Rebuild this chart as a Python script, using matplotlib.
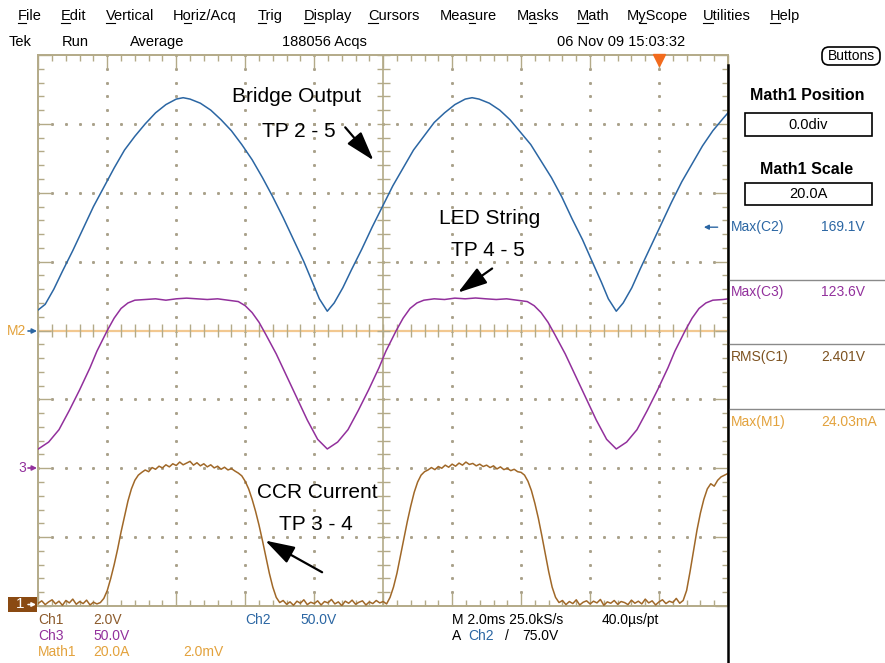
import numpy as np
import matplotlib
matplotlib.use("Agg")
import matplotlib.pyplot as plt
from matplotlib.patches import Rectangle, FancyBboxPatch

plt.rcParams["font.family"] = ["Liberation Sans", "DejaVu Sans"]

# ---- acquisition: time in ms, values in volts ----
# Ch2 - bridge output (TP 2-5)
CH2_POINTS = [
    (0.00, 15), (0.20, 19), (0.45, 30), (0.70, 43), (1.00, 58), (1.30, 74), (1.60, 90),
    (1.90, 104), (2.20, 118), (2.50, 131), (2.80, 141), (3.10, 150), (3.40, 158), (3.70, 164),
    (4.00, 168), (4.20, 169), (4.40, 168), (4.70, 165), (5.00, 160), (5.30, 153), (5.60, 145),
    (5.90, 135), (6.20, 124), (6.50, 111), (6.80, 97), (7.10, 82), (7.40, 66), (7.70, 50),
    (7.95, 35), (8.15, 23), (8.38, 14),
    (8.58, 20), (8.83, 31), (9.08, 44), (9.38, 59), (9.68, 75), (9.98, 90), (10.28, 105),
    (10.58, 118), (10.88, 131), (11.18, 141), (11.48, 151), (11.78, 158), (12.08, 164),
    (12.38, 168), (12.58, 169), (12.78, 168), (13.08, 165), (13.38, 160), (13.68, 153),
    (13.98, 144), (14.28, 135), (14.58, 123), (14.88, 111), (15.18, 97), (15.48, 81),
    (15.78, 66), (16.08, 49), (16.33, 35), (16.53, 23), (16.76, 14),
    (16.96, 20), (17.21, 31), (17.46, 45), (17.76, 61), (18.06, 77), (18.36, 93),
    (18.66, 108), (18.96, 121), (19.26, 134), (19.56, 145), (19.86, 154), (20.00, 158),
]

# Ch3 - LED string (TP 4-5)
CH3_POINTS = [
    (0.00, 14), (0.30, 19), (0.60, 28), (0.90, 42), (1.20, 57), (1.50, 73), (1.70, 85),
    (2.00, 100), (2.20, 109), (2.40, 116), (2.60, 120), (2.80, 122), (3.10, 122.5),
    (3.40, 123), (3.70, 122), (4.00, 123), (4.30, 123.5), (4.60, 123), (4.90, 122.5),
    (5.20, 123), (5.50, 122), (5.80, 121), (6.00, 118), (6.20, 113), (6.40, 106),
    (6.60, 97), (6.90, 83), (7.20, 67), (7.50, 51), (7.80, 35), (8.10, 21), (8.38, 14),
    (8.68, 19), (8.98, 28), (9.28, 42), (9.58, 57), (9.88, 73), (10.08, 85), (10.38, 100),
    (10.58, 109), (10.78, 116), (10.98, 120), (11.18, 122), (11.48, 123), (11.78, 122.5),
    (12.08, 123.5), (12.38, 123), (12.68, 123.6), (12.98, 123), (13.28, 122.5), (13.58, 123),
    (13.88, 122), (14.18, 121), (14.38, 118), (14.58, 113), (14.78, 106), (14.98, 97),
    (15.28, 83), (15.58, 67), (15.88, 51), (16.18, 35), (16.48, 21), (16.76, 14),
    (17.06, 19), (17.36, 28), (17.66, 42), (17.96, 57), (18.26, 73), (18.46, 85),
    (18.76, 100), (18.96, 109), (19.16, 116), (19.36, 120), (19.56, 122), (19.86, 122.5),
    (20.00, 123),
]

# Ch1 - CCR current sense (TP 3-4), one sample every 0.1 ms, one row per ms
CH1_DT = 0.1
CH1_VOLTS = [
    0.08, 0.15, 0.04, 0.12, 0.18, 0.06, 0.14, 0.02, 0.16, 0.09,
    0.20, 0.05, 0.13, 0.07, 0.17, 0.03, 0.11, 0.06, 0.10, 0.22,
    0.45, 0.80, 1.20, 1.65, 2.15, 2.60, 3.05, 3.40, 3.65, 3.80,
    3.88, 3.95, 3.90, 4.02, 3.97, 4.06, 4.01, 4.10, 4.04, 4.13,
    4.08, 4.18, 4.10, 4.15, 4.20, 4.09, 4.16, 4.07, 4.13, 4.04,
    4.10, 4.01, 4.06, 3.97, 4.03, 3.95, 3.99, 3.92, 3.86, 3.78,
    3.62, 3.40, 3.10, 2.75, 2.35, 1.90, 1.42, 0.95, 0.55, 0.25,
    0.10, 0.16, 0.05, 0.12, 0.02, 0.14, 0.08, 0.18, 0.04, 0.11,
    0.07, 0.15, 0.03, 0.13, 0.09, 0.19, 0.06, 0.12, 0.01, 0.14,
    0.08, 0.17, 0.05, 0.11, 0.15, 0.03, 0.12, 0.07, 0.16, 0.09,
    0.13, 0.06, 0.25, 0.55, 0.95, 1.45, 1.95, 2.45, 2.90, 3.30,
    3.60, 3.80, 3.90, 3.95, 4.02, 3.96, 4.05, 4.00, 4.09, 4.03,
    4.12, 4.06, 4.15, 4.09, 4.18, 4.11, 4.14, 4.07, 4.12, 4.05,
    4.09, 4.02, 4.07, 3.98, 4.04, 3.96, 4.00, 3.93, 3.97, 3.90,
    3.88, 3.80, 3.62, 3.35, 2.98, 2.55, 2.05, 1.52, 1.00, 0.55,
    0.25, 0.10, 0.16, 0.04, 0.13, 0.07, 0.18, 0.03, 0.11, 0.15,
    0.06, 0.14, 0.09, 0.19, 0.02, 0.12, 0.08, 0.16, 0.05, 0.13,
    0.10, 0.04, 0.17, 0.08, 0.14, 0.06, 0.20, 0.09, 0.15, 0.03,
    0.12, 0.18, 0.07, 0.14, 0.10, 0.22, 0.08, 0.16, 0.45, 1.00,
    1.60, 2.20, 2.70, 3.10, 3.40, 3.55, 3.48, 3.65, 3.75, 3.80,
    3.85,
]

# vertical settings (V/div) and ground positions (div from centre)
CH1_SCALE, CH2_SCALE, CH3_SCALE = 2.0, 50.0, 50.0
CH1_OFFSET, CH2_OFFSET, CH3_OFFSET = -4.0, 0.0, -2.0
TRIGGER_LEVEL = 75.0
TRIGGER_TIME = 18.0

MENU_LABELS = ["File", "Edit", "Vertical", "Horiz/Acq", "Trig", "Display", "Cursors",
               "Measure", "Masks", "Math", "MyScope", "Utilities", "Help"]
MENU_HOTKEY = [0, 0, 0, 1, 0, 0, 0, 3, 1, 0, 1, 0, 0]
MEAS_NAMES = ["Max(C2)", "Max(C3)", "RMS(C1)", "Max(M1)"]
MEAS_VALUES = ["169.1V", "123.6V", "2.401V", "24.03mA"]

BLUE = "#2B66A3"
PURPLE = "#92309C"
BROWN = "#A06828"
ORANGE = "#E3A23C"
TAN = "#B3AA88"
DOT = "#A9A18A"

fig = plt.figure(figsize=(8.85, 6.63), dpi=100)
fig.patch.set_facecolor("white")

# ---- graticule ----
ax = fig.add_axes([38.3 / 885, 57 / 663, 689.7 / 885, 551 / 663])
ax.set_xlim(0, 20)
ax.set_ylim(-4, 4)
for s in ax.spines.values():
    s.set_color(TAN)
    s.set_linewidth(1.4)
ax.set_xticks(np.arange(0, 20.01, 2))
ax.set_xticks(np.arange(0, 20.01, 0.4), minor=True)
ax.set_yticks(np.arange(-4, 4.01, 1))
ax.set_yticks(np.arange(-4, 4.01, 0.2), minor=True)
ax.tick_params(which="both", direction="in", top=True, right=True, labelbottom=False,
               labelleft=False, color=TAN, width=1.0)
ax.tick_params(which="major", length=9.5)
ax.tick_params(which="minor", length=4.3)

xminor = np.arange(0, 20.01, 0.4)
yminor = np.arange(-4, 4.01, 0.2)
for gx in [2, 4, 6, 8, 12, 14, 16, 18]:
    ax.plot([gx] * len(yminor), yminor, ls="none", marker="s", ms=1.1, color=DOT, zorder=1)
for gy in [-3, -2, -1, 1, 2, 3]:
    ax.plot(xminor, [gy] * len(xminor), ls="none", marker="s", ms=1.1, color=DOT, zorder=1)

# centre cross with ticks (M2 reference drawn in orange)
ax.axhline(0, color="#F2C890", lw=1.6, zorder=1.5)
ax.axvline(10, color=TAN, lw=1.2, zorder=1.5)
ax.vlines(xminor, -0.1, 0.1, color=TAN, lw=1.0, zorder=1.6)
ax.hlines(yminor, 9.81, 10.19, color=TAN, lw=1.0, zorder=1.6)

# ---- traces ----
t2, v2 = np.array(CH2_POINTS).T
t3, v3 = np.array(CH3_POINTS).T
v1 = np.array(CH1_VOLTS)
t1 = np.arange(len(v1)) * CH1_DT
ax.plot(t2, v2 / CH2_SCALE + CH2_OFFSET, color=BLUE, lw=1.1, zorder=4)
ax.plot(t3, v3 / CH3_SCALE + CH3_OFFSET, color=PURPLE, lw=1.1, zorder=4)
ax.plot(t1, v1 / CH1_SCALE + CH1_OFFSET, color=BROWN, lw=1.1, zorder=4)

# trigger position and level markers
ax.plot(TRIGGER_TIME, 3.93, marker="v", ms=9, color="#F26B1D", clip_on=False, zorder=6)
trig_y = TRIGGER_LEVEL / CH2_SCALE + CH2_OFFSET
ax.annotate("", xy=(19.3, trig_y), xytext=(19.7, trig_y),
            arrowprops=dict(arrowstyle="-|>", color=BLUE, lw=1.0, mutation_scale=7,
                            shrinkA=0, shrinkB=0))

# ---- annotations ----
arrow = dict(arrowstyle="-|>,head_length=0.9,head_width=0.28", color="black", lw=1.6,
             mutation_scale=20, shrinkA=0, shrinkB=0)
label_kw = dict(fontsize=15, ha="center", va="center", color="black", zorder=7)
ax.text(7.5, 3.40, "Bridge Output", **label_kw)
ax.text(7.54, 2.89, "TP 2 - 5", **label_kw)
ax.annotate("", xy=(9.72, 2.47), xytext=(8.9, 2.95), arrowprops=arrow, zorder=7)
ax.text(13.1, 1.63, "LED String", **label_kw)
ax.text(13.04, 1.16, "TP 4 - 5", **label_kw)
ax.annotate("", xy=(12.17, 0.55), xytext=(13.16, 0.9), arrowprops=arrow, zorder=7)
ax.text(8.09, -2.35, "CCR Current", **label_kw)
ax.text(8.06, -2.82, "TP 3 - 4", **label_kw)
ax.annotate("", xy=(6.58, -3.05), xytext=(8.23, -3.51), arrowprops=arrow, zorder=7)

# ---- screen furniture (pixel coordinates) ----
ui = fig.add_axes([0, 0, 1, 1])
ui.set_xlim(0, 885)
ui.set_ylim(663, 0)
ui.axis("off")
renderer = fig.canvas.get_renderer()

menu_x = [18, 61, 106, 173, 258, 304, 368, 440, 517, 577, 627, 703, 770]
for x, label, k in zip(menu_x, MENU_LABELS, MENU_HOTKEY):
    ui.text(x, 16, label, fontsize=10.5, va="center", ha="left")
    a = ui.text(x, 16, label[:k] if k else "M", fontsize=10.5, va="center", ha="left")
    b = ui.text(x, 16, label[:k + 1], fontsize=10.5, va="center", ha="left")
    w0 = a.get_window_extent(renderer).width if k else 0
    w1 = b.get_window_extent(renderer).width
    a.remove()
    b.remove()
    ui.plot([x + w0, x + w1 - 1], [23, 23], color="black", lw=0.8)

status = [(9, "Tek"), (62, "Run"), (130, "Average"), (282, "188056 Acqs"),
          (557, "06 Nov 09 15:03:32")]
for x, s in status:
    ui.text(x, 42, s, fontsize=10.5, va="center", ha="left")

ui.add_patch(FancyBboxPatch((822, 47), 58, 18, boxstyle="round,pad=0,rounding_size=7",
                            fc="white", ec="black", lw=1.2))
ui.text(851, 56, "Buttons", fontsize=10, ha="center", va="center")

# right-hand readout panel
ui.plot([728, 728], [65, 663], color="black", lw=1.8)
ui.text(807, 96, "Math1 Position", fontsize=11.5, fontweight="bold", ha="center", va="center")
ui.add_patch(Rectangle((745, 113), 127, 23, fc="white", ec="black", lw=1.2))
ui.text(808, 125, "0.0div", fontsize=10.5, ha="center", va="center")
ui.text(807, 169, "Math1 Scale", fontsize=11.5, fontweight="bold", ha="center", va="center")
ui.add_patch(Rectangle((745, 183), 127, 22, fc="white", ec="black", lw=1.2))
ui.text(808, 194, "20.0A", fontsize=10.5, ha="center", va="center")

meas_colors = [BLUE, PURPLE, "#7D5220", ORANGE]
meas_y = [227, 292, 357, 422]
for y, name, val, c in zip(meas_y, MEAS_NAMES, MEAS_VALUES, meas_colors):
    ui.text(731, y, name, fontsize=10, color=c, va="center", ha="left")
    ui.text(821, y, val, fontsize=10, color=c, va="center", ha="left")
for y in [280, 344, 409]:
    ui.plot([730, 885], [y, y], color="#8A8A8A", lw=1.0)

# channel ground markers
ui.text(7, 331, "M2", fontsize=10, color=ORANGE, va="center", ha="left")
ui.annotate("", xy=(37, 331), xytext=(28, 331),
            arrowprops=dict(arrowstyle="-|>", color=BLUE, lw=1.2, mutation_scale=7,
                            shrinkA=0, shrinkB=0))
ui.text(18, 468, "3", fontsize=10, color=PURPLE, va="center", ha="left")
ui.annotate("", xy=(37, 468), xytext=(28, 468),
            arrowprops=dict(arrowstyle="-|>", color=PURPLE, lw=1.2, mutation_scale=7,
                            shrinkA=0, shrinkB=0))
ui.add_patch(Rectangle((8, 597), 29, 15, fc="#8A4A12", ec="none"))
ui.text(20, 604.5, "1", fontsize=11, color="white", va="center", ha="center")
ui.annotate("", xy=(36, 604.5), xytext=(28, 604.5),
            arrowprops=dict(arrowstyle="-|>", color="white", lw=1.1, mutation_scale=6,
                            shrinkA=0, shrinkB=0))

# bottom readouts
bottom = [
    (38, 620, "Ch1", "#8B5A2B"), (93, 620, "2.0V", "#8B5A2B"),
    (245, 620, "Ch2", BLUE), (300, 620, "50.0V", BLUE),
    (38, 636, "Ch3", PURPLE), (93, 636, "50.0V", PURPLE),
    (38, 652, "Math1", ORANGE), (93, 652, "20.0A", ORANGE), (183, 652, "2.0mV", ORANGE),
    (452, 620, "M 2.0ms 25.0kS/s", "black"), (602, 620, "40.0\u00b5s/pt", "black"),
    (452, 636, "A", "black"), (468, 636, "Ch2", BLUE), (505, 636, "/", "black"),
    (522, 636, "75.0V", "black"),
]
for x, y, s, c in bottom:
    ui.text(x, y, s, fontsize=10, color=c, va="center", ha="left")

plt.savefig("out.png", dpi=100)
